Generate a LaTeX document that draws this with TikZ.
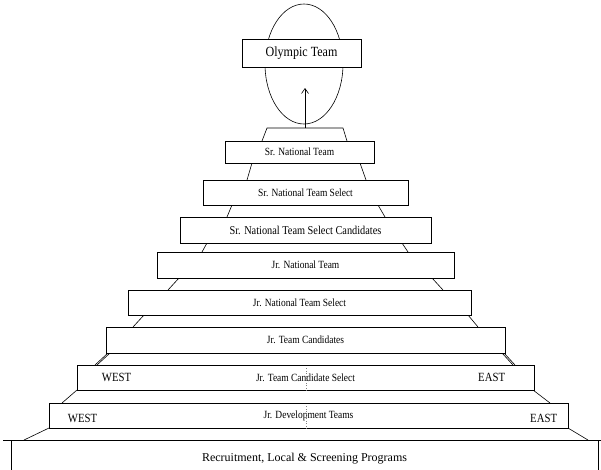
\documentclass[tikz,border=0pt]{standalone}
\usepackage{fontspec}
\setmainfont{Liberation Serif}
\newfontfamily\narrowfont[FakeStretch=0.86]{Liberation Serif}
\usetikzlibrary{shapes.geometric,arrows.meta,positioning}
\tikzstyle{tier} = [rectangle, draw, fill=white, inner sep=0pt,
    line width=0.6pt, font=\narrowfont\fontsize{11}{13}\selectfont]
\tikzstyle{sidelabel} = [inner sep=0pt, font=\narrowfont\fontsize{12.5}{14}\selectfont]
\tikzstyle{slope} = [draw, line width=0.6pt]
\tikzstyle{line} = [draw, line width=0.6pt, -{Straight Barb[length=5pt,width=7pt]}]

\begin{document}
\begin{tikzpicture}[x=1pt, y=-1pt]
    \useasboundingbox (0,0) rectangle (601,469);
    % Pyramid behind the tiers
    \draw [slope] (262,141) -- (267,128) -- (343,128) -- (347,141);
    \foreach \ya/\yb/\la/\lb/\ra/\rb in {163/180/252/247/360/366,
        205/217/232/227/378/385, 243/252/207/202/402/408,
        278/290/179/168/432/443, 315/327/144/133/468/478,
        353/365/110/97/502/513, 353/365/108/95/504/515,
        390/403/77/62/533/550, 428/440/49/24/568/588}
    {
        \draw [slope] (\la,\ya) -- (\lb,\yb);
        \draw [slope] (\ra,\ya) -- (\rb,\yb);
    }
    \coordinate (groundw) at (3,440);
    \coordinate (grounde) at (601,440);
    % Place nodes
    \node [ellipse, draw, line width=0.6pt, minimum width=78pt,
        minimum height=120pt, inner sep=0pt] (ring) at (304,64) {};
    \node [tier, minimum width=119pt, minimum height=28pt,
        font=\narrowfont\fontsize{14}{16}\selectfont] (olympic) at (301.5,53) {Olympic Team};
    \node [tier, minimum width=149pt, minimum height=22pt] (srnt) at (299.5,152) {Sr. National Team};
    \node [tier, minimum width=205pt, minimum height=25pt] (srnts) at (305.5,192.5) {Sr. National Team Select};
    \node [tier, minimum width=251pt, minimum height=26pt,
        font=\narrowfont\fontsize{12}{14}\selectfont] (srntsc) at (305.5,230) {Sr. National Team Select Candidates};
    \node [tier, minimum width=297pt, minimum height=26pt] (jrnt) at (305.5,265) {Jr. National Team};
    \node [tier, minimum width=343pt, minimum height=25pt] (jrnts) at (299.5,302.5) {Jr. National Team Select};
    \node [tier, minimum width=399pt, minimum height=26pt] (jrtc) at (305.5,340) {Jr. Team Candidates};
    \node [tier, minimum width=457pt, minimum height=25pt] (jrtcs) at (305.5,377.5) {Jr. Team Candidate Select};
    \node [tier, minimum width=519pt, minimum height=25pt] (jrdt) at (308.5,415.5) {Jr. Development Teams};
    \node [tier, minimum width=587pt, minimum height=31pt,
        font=\fontsize{12}{14}\selectfont, text depth=0pt] (recruit) at (304.5,455.5)
        {\raisebox{-4pt}{Recruitment, Local \& Screening Programs}};
    \draw [line width=0.9pt] (groundw) -- (grounde);
    % Side labels
    \node [sidelabel, right=25pt of jrtcs.west] (westa) {WEST};
    \node [sidelabel, left=29pt of jrtcs.east] (easta) {EAST};
    \node [sidelabel, right=19pt of jrdt.west, yshift=-2.5pt] (westb) {WEST};
    \node [sidelabel, left=11pt of jrdt.east, yshift=-2.5pt] (eastb) {EAST};
    % Centre marks
    \draw [dotted, gray] (jrtcs.south) ++(0.5,0) -- ++(0,-22);
    \draw [dotted, gray] (jrdt.south -| jrtcs.south) ++(0.5,0) -- ++(0,-23);
    % Draw edges
    \coordinate (apex) at (305,128);
    \coordinate (tip) at (305,88);
    \path [line] (apex) -- (tip);
\end{tikzpicture}
\end{document}
